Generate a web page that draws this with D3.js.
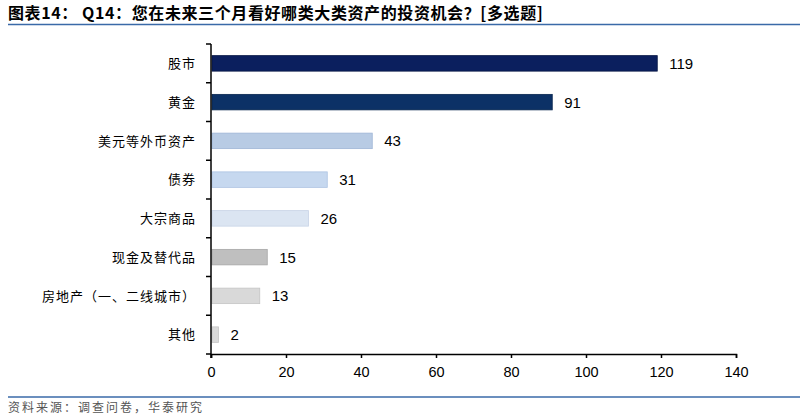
<!DOCTYPE html>
<html>
<head>
<meta charset="utf-8">
<title>Q14</title>
<script src="https://d3js.org/d3.v7.min.js"></script>
<style>
  body { margin: 0; background: #fff; }
  .cat { font: 13px "Noto Sans CJK SC", sans-serif; fill: #000; letter-spacing: 1px; }
  .val { font: 15px "Liberation Sans", Arial, sans-serif; fill: #000; }
  .axis text { font: 14.5px "Liberation Sans", Arial, sans-serif; fill: #000; }
  .axis path, .axis line { stroke: #000; stroke-width: 1.5px; }
</style>
</head>
<body>
<script>
var categories = ["股市", "黄金", "美元等外币资产", "债券", "大宗商品", "现金及替代品", "房地产（一、二线城市）", "其他"];
var values = [119, 91, 43, 31, 26, 15, 13, 2];
var colors = ["#0b1f5e", "#0c3166", "#b8cbe4", "#c6d8ef", "#dbe5f2", "#bfbfbf", "#d9d9d9", "#d9d9d9"];
var strokes = ["#061644", "#08264f", "#9fb5d6", "#adc3e2", "#c7d3e6", "#a6a6a6", "#c4c4c4", "#c4c4c4"];
var xTicks = [0, 20, 40, 60, 80, 100, 120, 140];

var width = 800, height = 420;
var x0 = 211, x1 = 736, yTop = 44, yBot = 354;

var svg = d3.select("body").append("svg")
    .attr("width", width)
    .attr("height", height);

// titel + linien
svg.append("text")
    .attr("x", 8).attr("y", 19)
    .style("font", "bold 16px 'Noto Sans CJK SC', sans-serif")
    .style("letter-spacing", "0.6px")
    .text("图表14：  Q14：您在未来三个月看好哪类大类资产的投资机会？[多选题]");

svg.append("line")
    .attr("x1", 8).attr("x2", 800).attr("y1", 24.5).attr("y2", 24.5)
    .attr("stroke", "#3a6aa8").attr("stroke-width", 1.5);

svg.append("line")
    .attr("x1", 8).attr("x2", 800).attr("y1", 397).attr("y2", 397)
    .attr("stroke", "#3a6aa8").attr("stroke-width", 1.5);

svg.append("text")
    .attr("x", 8).attr("y", 412)
    .attr("fill", "#555")
    .style("font", "12px 'Noto Sans CJK SC', sans-serif")
    .style("letter-spacing", "2px")
    .text("资料来源：调查问卷，华泰研究");

var x = d3.scaleLinear().domain([0, 140]).range([x0, x1]);
var y = d3.scaleBand().domain(categories).range([yTop, yBot]).paddingInner(0.6).paddingOuter(0.3);
var yb = d3.scaleBand().domain(categories).range([yTop, yBot]);

// bars
svg.selectAll(".bar")
    .data(values)
    .enter().append("rect")
    .attr("class", "bar")
    .attr("x", x(0) + 1)
    .attr("y", function(d, i) { return y(categories[i]); })
    .attr("width", function(d) { return x(d) - x(0) - 1; })
    .attr("height", y.bandwidth())
    .attr("fill", function(d, i) { return colors[i]; })
    .attr("stroke", function(d, i) { return strokes[i]; })
    .attr("stroke-width", 0.8);

svg.selectAll(".val")
    .data(values)
    .enter().append("text")
    .attr("class", "val")
    .attr("x", function(d) { return x(d) + 12; })
    .attr("y", function(d, i) { return y(categories[i]) + y.bandwidth() / 2; })
    .attr("dy", "0.36em")
    .text(function(d) { return d; });

svg.selectAll(".cat")
    .data(categories)
    .enter().append("text")
    .attr("class", "cat")
    .attr("x", 196)
    .attr("y", function(d) { return yb(d) + yb.bandwidth() / 2; })
    .attr("dy", "0.36em")
    .attr("text-anchor", "end")
    .text(function(d) { return d; });

// y-achse mit ticks zwischen den kategorien
var yEdges = d3.range(categories.length + 1).map(function(i) { return yTop + i * yb.step(); });
svg.append("line")
    .attr("x1", x0).attr("x2", x0).attr("y1", yTop).attr("y2", yBot + 4)
    .attr("stroke", "#000").attr("stroke-width", 1.5);
svg.selectAll(".ytick")
    .data(yEdges)
    .enter().append("line")
    .attr("class", "ytick")
    .attr("x1", x0 - 5).attr("x2", x0)
    .attr("y1", function(d) { return d; }).attr("y2", function(d) { return d; })
    .attr("stroke", "#000").attr("stroke-width", 1.5);

// x-achse
svg.append("g")
    .attr("class", "axis")
    .attr("transform", "translate(0," + yBot + ")")
    .call(d3.axisBottom(x).tickValues(xTicks).tickSize(4).tickSizeOuter(4).tickPadding(6))
    .call(function(g) { g.selectAll("text").attr("dy", "0.9em"); });
</script>
</body>
</html>
